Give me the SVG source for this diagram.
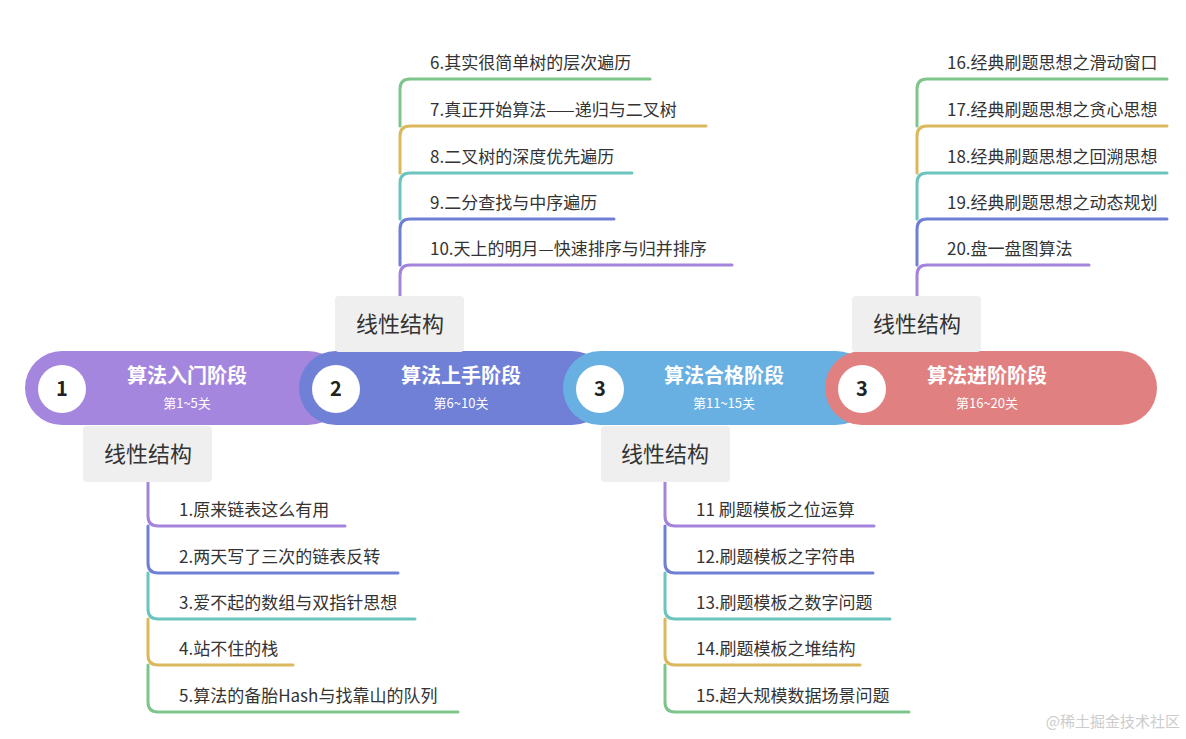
<svg xmlns="http://www.w3.org/2000/svg" width="1186" height="739" viewBox="0 0 1186 739">
<style>
.it{font-family:"Noto Sans CJK SC","Liberation Sans",sans-serif;font-size:17px;fill:#333}
.bx{fill:#efefef}
.bt{font-family:"Noto Sans CJK SC",sans-serif;font-size:22px;fill:#333;text-anchor:middle}
.ti{font-family:"Noto Sans CJK SC",sans-serif;font-size:20px;font-weight:bold;fill:#fff;text-anchor:middle}
.su{font-family:"Noto Sans CJK SC",sans-serif;font-size:13px;fill:#fff;text-anchor:middle}
.nu{font-family:"Noto Sans CJK SC",sans-serif;font-size:20px;font-weight:bold;fill:#222;text-anchor:middle}
.l{fill:none;stroke-width:3;stroke-linecap:round}
.pu{stroke:#a383dc}.bl{stroke:#6f80d4}.te{stroke:#6cc4bf}.ye{stroke:#dbb85c}.gr{stroke:#7dc58a}
</style>
<g id="connectors">
<path class="l pu" d="M148 482V516Q148 526 158 526H345"/>
<path class="l bl" d="M148 526V563Q148 573 158 573H398"/>
<path class="l te" d="M148 573V609Q148 619 158 619H415"/>
<path class="l ye" d="M148 619V655Q148 665 158 665H293"/>
<path class="l gr" d="M148 665V702Q148 712 158 712H458"/>
<path class="l pu" d="M665 482V516Q665 526 675 526H874"/>
<path class="l bl" d="M665 526V563Q665 573 675 573H873"/>
<path class="l te" d="M665 573V609Q665 619 675 619H890"/>
<path class="l ye" d="M665 619V655Q665 665 675 665H860"/>
<path class="l gr" d="M665 665V702Q665 712 675 712H909"/>
<path class="l pu" d="M400 296V275Q400 265 410 265H732"/>
<path class="l bl" d="M400 265V229Q400 219 410 219H614"/>
<path class="l te" d="M400 219V183Q400 173 410 173H632"/>
<path class="l ye" d="M400 173V136Q400 126 410 126H706"/>
<path class="l gr" d="M400 126V89Q400 79 410 79H650"/>
<path class="l pu" d="M917 296V275Q917 265 927 265H1089"/>
<path class="l bl" d="M917 265V229Q917 219 927 219H1167"/>
<path class="l te" d="M917 219V183Q917 173 927 173H1167"/>
<path class="l ye" d="M917 173V136Q917 126 927 126H1167"/>
<path class="l gr" d="M917 126V89Q917 79 927 79H1167"/>
</g>
<g id="stage1">
<rect x="25" y="351" width="320" height="74" rx="37" fill="#a586de"/>
<circle cx="62" cy="389" r="24" fill="#fff"/>
<text class="nu" x="62" y="396">1</text>
<text class="ti" x="187" y="383">算法入门阶段</text>
<text class="su" x="187" y="408">第1~5关</text>
</g>
<g id="stage2">
<rect x="299" y="351" width="310" height="74" rx="37" fill="#6f80d6"/>
<circle cx="336" cy="389" r="24" fill="#fff"/>
<text class="nu" x="336" y="396">2</text>
<text class="ti" x="461" y="383">算法上手阶段</text>
<text class="su" x="461" y="408">第6~10关</text>
</g>
<g id="stage3">
<rect x="563" y="351" width="310" height="74" rx="37" fill="#68b0e2"/>
<circle cx="600" cy="389" r="24" fill="#fff"/>
<text class="nu" x="600" y="396">3</text>
<text class="ti" x="724" y="383">算法合格阶段</text>
<text class="su" x="724" y="408">第11~15关</text>
</g>
<g id="stage4">
<rect x="825" y="351" width="332" height="74" rx="37" fill="#e18080"/>
<circle cx="862" cy="389" r="24" fill="#fff"/>
<text class="nu" x="862" y="396">3</text>
<text class="ti" x="987" y="383">算法进阶阶段</text>
<text class="su" x="987" y="408">第16~20关</text>
</g>
<g id="box1"><rect class="bx" x="83" y="426" width="129" height="56" rx="4"/><text class="bt" x="148" y="462">线性结构</text></g>
<g id="box2"><rect class="bx" x="335" y="296" width="129" height="56" rx="4"/><text class="bt" x="400" y="332">线性结构</text></g>
<g id="box3"><rect class="bx" x="601" y="426" width="129" height="56" rx="4"/><text class="bt" x="665" y="462">线性结构</text></g>
<g id="box4"><rect class="bx" x="852" y="296" width="129" height="56" rx="4"/><text class="bt" x="917" y="332">线性结构</text></g>
<g id="items">
<text class="it" x="179" y="516">1.原来链表这么有用</text>
<text class="it" x="179" y="563">2.两天写了三次的链表反转</text>
<text class="it" x="179" y="609">3.爱不起的数组与双指针思想</text>
<text class="it" x="179" y="655">4.站不住的栈</text>
<text class="it" x="179" y="702">5.算法的备胎Hash与找靠山的队列</text>
<text class="it" x="430" y="69">6.其实很简单树的层次遍历</text>
<text class="it" x="430" y="116">7.真正开始算法——递归与二叉树</text>
<text class="it" x="430" y="163">8.二叉树的深度优先遍历</text>
<text class="it" x="430" y="209">9.二分查找与中序遍历</text>
<text class="it" x="430" y="255">10.天上的明月—快速排序与归并排序</text>
<text class="it" x="696" y="516">11 刷题模板之位运算</text>
<text class="it" x="696" y="563">12.刷题模板之字符串</text>
<text class="it" x="696" y="609">13.刷题模板之数字问题</text>
<text class="it" x="696" y="655">14.刷题模板之堆结构</text>
<text class="it" x="696" y="702">15.超大规模数据场景问题</text>
<text class="it" x="947" y="69">16.经典刷题思想之滑动窗口</text>
<text class="it" x="947" y="116">17.经典刷题思想之贪心思想</text>
<text class="it" x="947" y="163">18.经典刷题思想之回溯思想</text>
<text class="it" x="947" y="209">19.经典刷题思想之动态规划</text>
<text class="it" x="947" y="255">20.盘一盘图算法</text>
</g>
<text x="1180" y="727" text-anchor="end" font-family="Noto Sans CJK SC,sans-serif" font-size="15" fill="#ccc">@稀土掘金技术社区</text>
</svg>
